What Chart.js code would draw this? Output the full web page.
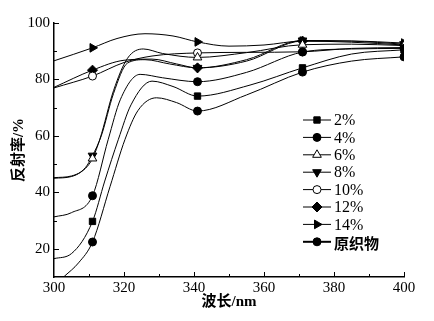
<!DOCTYPE html>
<html>
<head>
<meta charset="utf-8">
<script src="https://cdn.jsdelivr.net/npm/chart.js@4.4.1/dist/chart.umd.min.js"></script>
<style>
  html, body { margin: 0; padding: 0; background: #fff; }
  canvas { display: block; }
</style>
</head>
<body>
<canvas id="chart" width="434" height="321"></canvas>
<script>
// series labels (legend order) and the wavelengths that carry a marker
const seriesNames = ['2%', '4%', '6%', '8%', '10%', '12%', '14%', '原织物'];
const markerX = [311, 341, 371, 400];

// wavelength (nm) / reflectance (%)
const wl2 = [300, 305, 311, 314.5, 318.4, 322, 328, 334, 341, 356, 371, 385, 400];
const r2  = [16.5, 18.3, 29.7, 44, 58.8, 71, 79.4, 77.5, 74.1, 78, 84.1, 89, 90.5];

const wl4 = [300, 305, 311, 315.5, 319, 324.6, 331, 341, 355, 371, 385, 400];
const r4  = [31.3, 32.8, 38.8, 58.8, 73, 81.8, 80.6, 79.2, 82.5, 89.7, 90.8, 91];

const wl6 = [300, 305, 309, 311, 313.1, 317, 321, 325.5, 331, 341, 355, 371, 385, 400];
const r6  = [45.2, 45.8, 48.5, 52, 58.8, 76, 87.5, 90.8, 89.2, 87.8, 89.5, 92.3, 92.5, 92];

const wl8 = [300, 305, 309, 311, 313.5, 317, 321, 326, 333, 341, 355, 371, 385, 400];
const r8  = [45, 45.6, 48.8, 53, 60, 75, 85.8, 87, 85.5, 84.1, 87, 93.8, 93.6, 92.5];

const wl10 = [300, 311, 320, 328, 341, 355, 371, 385, 400];
const r10  = [77, 81.2, 86, 88.3, 89.4, 89.6, 89.8, 91, 91.3];

const wl12 = [300, 311, 320, 328, 335, 341, 355, 371, 385, 400];
const r12  = [77.2, 83.3, 86.8, 87.2, 85.5, 84.1, 86.5, 93.6, 93.2, 92.2];

const wl14 = [300, 311, 318, 326, 334, 341, 350, 360, 371, 385, 400];
const r14  = [86.6, 91.2, 94.5, 96.2, 95.4, 93.3, 91.8, 92.2, 93.6, 93.6, 92.9];

const wlRaw = [300, 303, 307, 311, 316, 320.3, 324, 329.3, 335, 341, 355, 371, 385, 400];
const rRaw  = [7, 10.3, 15, 22.4, 42, 58.8, 69, 73.5, 71.8, 68.8, 74.5, 82.6, 86.5, 88];

const xTicks = [300, 320, 340, 360, 380, 400];
const yTicks = [20, 40, 60, 80, 100];

const allX = [wl2, wl4, wl6, wl8, wl10, wl12, wl14, wlRaw];
const allY = [r2, r4, r6, r8, r10, r12, r14, rRaw];

// marker look per series
const markers = [
  { style: 'rect', rot: 0, fill: '#000', r: 4.5 },
  { style: 'circle', rot: 0, fill: '#000', r: 4 },
  { style: 'triangle', rot: 0, fill: '#fff', r: 5 },
  { style: 'triangle', rot: 180, fill: '#000', r: 5 },
  { style: 'circle', rot: 0, fill: '#fff', r: 4 },
  { style: 'rectRot', rot: 0, fill: '#000', r: 5 },
  { style: 'triangle', rot: 90, fill: '#000', r: 5 },
  { style: 'circle', rot: 0, fill: '#000', r: 4 }
];

const serif = '"Liberation Serif", "Noto Sans CJK SC", serif';

const datasets = seriesNames.map((name, i) => ({
  label: name,
  data: allX[i].map((x, j) => ({ x: x, y: allY[i][j] })),
  borderColor: '#000',
  borderWidth: 1,
  cubicInterpolationMode: 'monotone',
  pointStyle: markers[i].style,
  pointRotation: markers[i].rot,
  pointBackgroundColor: markers[i].fill,
  pointBorderColor: '#000',
  pointBorderWidth: 1,
  pointRadius: ctx => markerX.includes(ctx.raw.x) ? markers[i].r : 0,
  pointHoverRadius: 0
}));

// ticks drawn inward, long at labelled values
const innerTicks = {
  id: 'innerTicks',
  afterDraw(chart) {
    const { ctx, chartArea: a, scales } = chart;
    ctx.save();
    ctx.strokeStyle = '#000';
    ctx.lineWidth = 1;
    ctx.beginPath();
    scales.x.ticks.forEach(t => {
      if (t.value === 300) return;
      const px = Math.round(scales.x.getPixelForValue(t.value)) + 0.5;
      const len = t.value % 20 === 0 ? 5 : 3;
      ctx.moveTo(px, a.bottom);
      ctx.lineTo(px, a.bottom - len);
    });
    scales.y.ticks.forEach(t => {
      if (t.value === 10) return;
      const py = Math.round(scales.y.getPixelForValue(t.value)) + 0.5;
      const len = t.value % 20 === 0 ? 5 : 3;
      ctx.moveTo(a.left, py);
      ctx.lineTo(a.left + len, py);
    });
    ctx.stroke();
    ctx.restore();
  }
};

// line + marker legend inside the plot
const markLegend = {
  id: 'markLegend',
  afterDraw(chart) {
    const ctx = chart.ctx;
    const x0 = 303, x1 = 331, top = 120, step = 17.4;
    ctx.save();
    seriesNames.forEach((name, i) => {
      const y = top + i * step;
      const last = i === seriesNames.length - 1;
      ctx.strokeStyle = '#000';
      ctx.lineWidth = last ? 2 : 1;
      ctx.beginPath();
      ctx.moveTo(x0, y);
      ctx.lineTo(x1, y);
      ctx.stroke();
      ctx.fillStyle = markers[i].fill;
      ctx.lineWidth = 1;
      Chart.helpers.drawPoint(ctx, {
        pointStyle: markers[i].style,
        rotation: markers[i].rot,
        radius: markers[i].r,
        borderWidth: 1
      }, (x0 + x1) / 2, y);
      ctx.fillStyle = '#000';
      ctx.textBaseline = 'middle';
      ctx.textAlign = 'left';
      ctx.font = last ? 'bold 15px "Noto Sans CJK SC"' : '16px ' + serif;
      ctx.fillText(name, 334, y + 1);
    });
    ctx.restore();
  }
};

new Chart(document.getElementById('chart'), {
  type: 'line',
  data: { datasets: datasets },
  plugins: [innerTicks, markLegend],
  options: {
    responsive: false,
    animation: false,
    layout: { padding: { top: 23, right: 30, left: 0, bottom: 0 } },
    plugins: { legend: { display: false }, tooltip: { enabled: false } },
    scales: {
      x: {
        type: 'linear',
        min: 300,
        max: 400,
        grid: { display: false, drawTicks: false },
        border: { display: true, color: '#000', width: 1.5 },
        ticks: {
          stepSize: 10,
          padding: 2,
          color: '#000',
          font: { family: serif, size: 15 },
          callback: v => xTicks.includes(v) ? String(v) : ''
        },
        title: {
          display: true,
          text: '波长/nm',
          color: '#000',
          font: { family: serif, size: 15, weight: 'bold' },
          padding: { top: 0, bottom: 10 }
        },
        afterFit: s => { s.height = 44; }
      },
      y: {
        min: 10,
        max: 100,
        grid: { display: false, drawTicks: false },
        border: { display: true, color: '#000', width: 1.5 },
        ticks: {
          stepSize: 10,
          padding: 4,
          color: '#000',
          font: { family: serif, size: 15 },
          callback: v => yTicks.includes(v) ? String(v) : ''
        },
        title: {
          display: true,
          text: '反射率/%',
          color: '#000',
          font: { family: serif, size: 15, weight: 'bold' },
          padding: { top: 10, bottom: 0 }
        },
        afterFit: s => { s.width = 54; }
      }
    }
  }
});
</script>
</body>
</html>
